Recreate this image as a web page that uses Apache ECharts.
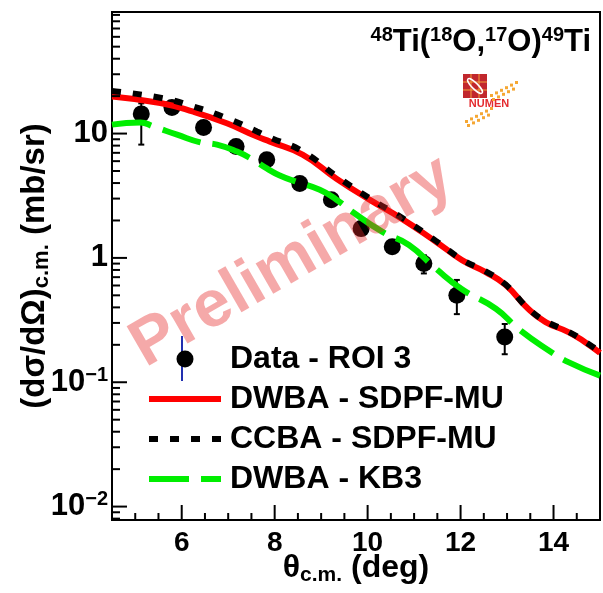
<!DOCTYPE html>
<html>
<head>
<meta charset="utf-8">
<script src="https://cdn.jsdelivr.net/npm/echarts@6/dist/echarts.min.js"></script>
<style>
html, body { margin: 0; padding: 0; background: #fff; }
#chart { width: 603px; height: 593px; }
</style>
</head>
<body>
<div id="chart"></div>
<script>
// measured points: theta c.m. (deg), d sigma / d omega (mb/sr)
var dataTheta = [5.13, 5.79, 6.47, 7.17, 7.83, 8.54, 9.22, 9.86, 10.53, 11.21, 11.92, 12.95];
var dataSigma = [14.4, 16.2, 11.2, 7.86, 6.17, 3.97, 2.94, 1.72, 1.23, 0.90, 0.50, 0.231];
var dataErrLo = [8.15, 14.8, 10.3, 7.2, 5.6, 3.6, 2.7, 1.58, 1.12, 0.75, 0.353, 0.168];
var dataErrHi = [17.5, 17.6, 12.1, 8.5, 6.7, 4.3, 3.2, 1.86, 1.34, 1.05, 0.665, 0.294];

// calculations
var sdpfTheta = [4.5, 5.54, 6.25, 6.97, 7.62, 7.9, 8.6, 9.33, 10.04, 10.74, 11.47, 12.03, 12.54, 12.97, 13.46, 13.83, 14.32, 14.68, 15];
var dwbaSdpf = [19.9, 17.6, 15.0, 12.1, 9.46, 8.62, 6.77, 4.34, 2.94, 2.06, 1.35, 0.96, 0.77, 0.605, 0.388, 0.305, 0.253, 0.21, 0.172];
var ccbaSdpf = [22.0, 19.4, 16.5, 13.3, 10.4, 9.3, 7.2, 4.55, 3.02, 2.1, 1.37, 0.97, 0.78, 0.61, 0.39, 0.31, 0.255, 0.212, 0.175];

var kb3Theta = [4.5, 5.11, 5.39, 5.9, 6.4, 6.76, 7.19, 7.53, 7.83, 8.11, 8.47, 8.97, 9.33, 9.67, 10.32, 10.89, 11.47, 12.03, 12.76, 13.25, 13.89, 14.32, 15];
var dwbaKb3 = [11.8, 12.3, 11.4, 9.8, 8.5, 8.15, 7.16, 6.17, 5.25, 4.6, 4.1, 3.53, 2.94, 2.35, 1.62, 1.27, 0.82, 0.56, 0.39, 0.268, 0.181, 0.145, 0.113];

var seriesNames = ['Data - ROI 3', 'DWBA - SDPF-MU', 'CCBA - SDPF-MU', 'DWBA - KB3'];
var xLabelTicks = [6, 8, 10, 12, 14];

var xMin = 4.5, xMax = 15, yMin = 0.0078, yMax = 95;
var FONT = '"Liberation Sans", Arial, sans-serif';
var NOFILL = 'rgba(0,0,0,0)';

function zip(a, b) {
    return a.map(function (v, i) { return [v, b[i]]; });
}

// ROOT style ticks: inside, only on left and bottom
var tickData = [];
for (var t = 5; t < xMax; t += 0.5) {
    tickData.push([t, yMin, xLabelTicks.indexOf(t) >= 0 ? 15 : 7, 0]);
}
for (var e = -3; e <= 1; e++) {
    for (var m = 1; m <= 9; m++) {
        var v = m * Math.pow(10, e);
        if (v > yMin && v < yMax) tickData.push([xMin, v, m === 1 ? 15 : 8, 1]);
    }
}

function renderTick(params, api) {
    var p = api.coord([api.value(0), api.value(1)]);
    var len = api.value(2);
    var shape = api.value(3) === 0
        ? { x1: p[0], y1: p[1], x2: p[0], y2: p[1] - len }
        : { x1: p[0], y1: p[1], x2: p[0] + len, y2: p[1] };
    return { type: 'line', shape: shape, style: { stroke: '#000', lineWidth: 2 } };
}

function renderErr(params, api) {
    var lo = api.coord([api.value(0), api.value(1)]);
    var hi = api.coord([api.value(0), api.value(2)]);
    var st = { stroke: '#000', lineWidth: 2 };
    return {
        type: 'group',
        children: [
            { type: 'line', shape: { x1: lo[0], y1: lo[1], x2: hi[0], y2: hi[1] }, style: st },
            { type: 'line', shape: { x1: lo[0] - 3, y1: lo[1], x2: lo[0] + 3, y2: lo[1] }, style: st },
            { type: 'line', shape: { x1: hi[0] - 3, y1: hi[1], x2: hi[0] + 3, y2: hi[1] }, style: st }
        ]
    };
}

function yLabel(value) {
    var lg = Math.log10(value);
    var ex = Math.round(lg);
    if (Math.abs(lg - ex) > 1e-6) return '';
    if (ex === 0) return '{b|1}';
    if (ex === 1) return '{b|10}';
    return '{b|10}{s|\u2212' + (-ex) + '}';
}

// NUMEN logo: two bands of small orange squares
var logoDots = [];
function dotBand(x0, y0, n, rows) {
    for (var r = 0; r < rows; r++) {
        for (var k = 0; k < n - r; k++) {
            logoDots.push({
                type: 'rect',
                shape: { x: x0 + k * 5 + r * 2, y: y0 - k * 2.6 + r * 4, width: 3, height: 3 },
                style: { fill: '#f5a733' }
            });
        }
    }
}
dotBand(490, 94, 6, 2);
dotBand(465, 120, 6, 2);

var chart = echarts.init(document.getElementById('chart'));

var option = {
    backgroundColor: '#fff',
    animation: false,
    grid: {
        left: 112, right: 3, top: 12, bottom: 73,
        outerBoundsMode: 'none',
        containLabel: false,
        show: true, borderColor: '#000', borderWidth: 2
    },
    legend: {
        data: seriesNames,
        orient: 'vertical',
        left: 146, top: 343,
        padding: 0,
        itemWidth: 72, itemHeight: 17, itemGap: 8,
        selectedMode: false,
        lineStyle: { width: 'inherit' },
        textStyle: {
            fontFamily: FONT, fontSize: 32, fontWeight: 'bold', color: '#000',
            padding: [0, 0, 0, 4]
        }
    },
    xAxis: {
        type: 'value',
        min: xMin, max: xMax, interval: 0.5,
        axisLine: { show: false },
        axisTick: { show: false },
        splitLine: { show: false },
        axisLabel: {
            margin: 9,
            fontFamily: FONT, fontSize: 28, fontWeight: 'bold', color: '#000',
            formatter: function (v) { return xLabelTicks.indexOf(v) >= 0 ? String(v) : ''; }
        },
        name: '{n|\u03b8}{sub|c.m.}{n| (deg)}',
        nameLocation: 'middle',
        nameGap: 31,
        nameMoveOverlap: false,
        nameTextStyle: {
            rich: {
                n: { fontFamily: FONT, fontSize: 32, fontWeight: 'bold', color: '#000' },
                sub: { fontFamily: FONT, fontSize: 21, fontWeight: 'bold', color: '#000', verticalAlign: 'bottom', padding: [14, 0, 0, 0] }
            }
        }
    },
    yAxis: {
        type: 'log',
        min: yMin, max: yMax,
        axisLine: { show: false },
        axisTick: { show: false },
        splitLine: { show: false },
        axisLabel: {
            margin: 4,
            showMinLabel: false, showMaxLabel: false,
            formatter: yLabel,
            rich: {
                b: { fontFamily: FONT, fontSize: 31, fontWeight: 'bold', color: '#000' },
                s: { fontFamily: FONT, fontSize: 20, fontWeight: 'bold', color: '#000', verticalAlign: 'top', padding: [0, 0, 14, 0] }
            }
        },
        name: '{n|(d\u03c3/d\u03a9)}{sub|c.m.}{n| (mb/sr)}',
        nameLocation: 'middle',
        nameGap: 59,
        nameMoveOverlap: false,
        nameTextStyle: {
            rich: {
                n: { fontFamily: FONT, fontSize: 33, fontWeight: 'bold', color: '#000' },
                sub: { fontFamily: FONT, fontSize: 22, fontWeight: 'bold', color: '#000', verticalAlign: 'bottom', padding: [14, 0, 0, 0] }
            }
        }
    },
    graphic: [
        {
            type: 'text', x: 591, y: 42, z: 20,
            style: {
                text: '{s|48}{b|Ti(}{s|18}{b|O,}{s|17}{b|O)}{s|49}{b|Ti}',
                align: 'right', verticalAlign: 'middle',
                rich: {
                    b: { fontFamily: FONT, fontSize: 31, fontWeight: 'bold', fill: '#000', lineHeight: 34 },
                    s: { fontFamily: FONT, fontSize: 20, fontWeight: 'bold', fill: '#000', lineHeight: 34, verticalAlign: 'top' }
                }
            }
        },
        {
            type: 'group', z: 1,
            children: [
                { type: 'rect', shape: { x: 463, y: 74, width: 24, height: 24 }, style: { fill: '#c1272d' } },
                { type: 'line', shape: { x1: 471, y1: 74, x2: 471, y2: 98 }, style: { stroke: '#f3a13a', lineWidth: 1 } },
                { type: 'line', shape: { x1: 479, y1: 74, x2: 479, y2: 98 }, style: { stroke: '#f3a13a', lineWidth: 1 } },
                { type: 'line', shape: { x1: 463, y1: 82, x2: 487, y2: 82 }, style: { stroke: '#f3a13a', lineWidth: 1 } },
                { type: 'line', shape: { x1: 463, y1: 90, x2: 487, y2: 90 }, style: { stroke: '#f3a13a', lineWidth: 1 } },
                { type: 'ellipse', x: 475, y: 86, rotation: -Math.PI / 4, shape: { cx: 0, cy: 0, rx: 10, ry: 3 }, style: { fill: 'none', stroke: '#fff', lineWidth: 1.5 } },
                { type: 'text', style: { x: 489, y: 104, text: 'NUMEN', align: 'center', verticalAlign: 'middle', font: 'bold 11px ' + FONT, fill: '#e42b2f' } }
            ].concat(logoDots)
        },
        {
            // blue error bar of the data legend entry
            type: 'line', z: 3,
            shape: { x1: 182, y1: 336, x2: 182, y2: 381 },
            style: { stroke: '#2230b0', lineWidth: 2 }
        },
        {
            type: 'text', x: 292, y: 262, rotation: Math.PI / 6, z: 30,
            style: {
                text: 'Preliminary', x: 0, y: 0,
                align: 'center', verticalAlign: 'middle',
                font: 'bold 66px ' + FONT,
                fill: 'rgba(230, 40, 40, 0.40)'
            }
        }
    ],
    series: [
        {
            name: 'ticks',
            type: 'custom',
            renderItem: renderTick,
            data: tickData,
            silent: true,
            z: 6
        },
        {
            name: 'errors',
            type: 'custom',
            renderItem: renderErr,
            data: dataTheta.map(function (x, i) { return [x, dataErrLo[i], dataErrHi[i]]; }),
            z: 1
        },
        {
            name: seriesNames[0],
            type: 'scatter',
            data: zip(dataTheta, dataSigma),
            symbol: 'circle',
            symbolSize: 17,
            itemStyle: { color: '#000', opacity: 1 },
            z: 2
        },
        {
            name: seriesNames[1],
            type: 'line',
            data: zip(sdpfTheta, dwbaSdpf),
            smooth: true,
            symbol: 'none',
            lineStyle: { color: '#ff0000', width: 6 },
            itemStyle: { color: NOFILL, borderWidth: 0 },
            z: 3
        },
        {
            name: seriesNames[2],
            type: 'line',
            data: zip(sdpfTheta, ccbaSdpf),
            smooth: true,
            symbol: 'none',
            lineStyle: { color: '#000', width: 6, type: [9, 12], cap: 'butt' },
            itemStyle: { color: NOFILL, borderWidth: 0 },
            z: 4
        },
        {
            name: seriesNames[3],
            type: 'line',
            data: zip(kb3Theta, dwbaKb3),
            smooth: true,
            symbol: 'none',
            lineStyle: { color: '#00ee00', width: 6, type: [40, 12], cap: 'butt' },
            itemStyle: { color: NOFILL, borderWidth: 0 },
            z: 3
        }
    ]
};

chart.setOption(option);
</script>
</body>
</html>
